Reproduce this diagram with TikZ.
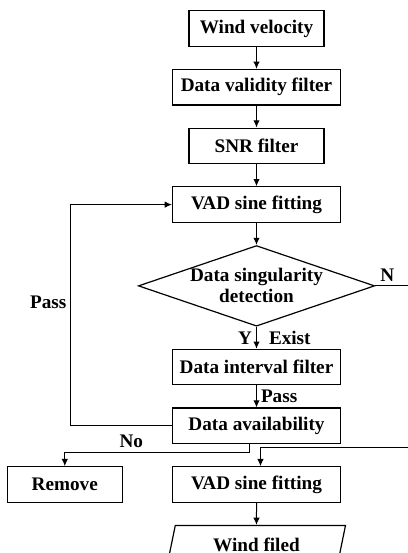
\documentclass[tikz,border=0pt]{standalone}
\usepackage{fontspec}
\setmainfont{Liberation Serif}
\usetikzlibrary{arrows.meta, positioning, shapes.geometric}

\begin{document}
\begin{tikzpicture}[
    x=0.5pt, y=-0.5pt,
    node distance=11pt,
    every node/.style={font=\fontsize{9.6}{10.5}\selectfont\bfseries},
    box/.style={draw, line width=0.6pt, align=center, minimum height=17.75pt,
        minimum width=84pt},
    nbox/.style={box, minimum width=67.5pt},
    decide/.style={draw, line width=0.6pt, diamond, aspect=2.93,
        inner sep=0.15pt, align=center},
    io/.style={draw, line width=0.6pt, trapezium, trapezium left angle=74,
        trapezium right angle=106, trapezium stretches body,
        minimum width=89pt, minimum height=19pt},
    arr/.style={-{Latex[length=3.6pt, width=3.2pt]}, line width=0.5pt},
    lbl/.style={inner sep=2pt}
]
\useasboundingbox (0,0) rectangle (408,553);
\node[nbox] (wv) at (256.5,28.5) {Wind velocity};
\node[box, below=of wv] (dvf) {Data validity filter};
\node[nbox, below=of dvf] (snr) {SNR filter};
\node[box, below=of snr] (vad1) {VAD sine fitting};
\node[decide, below=of vad1] (dsd) {Data singularity\\detection};
\node[box, below=of dsd] (dif) {Data interval filter};
\node[box, below=of dif] (da) {Data availability};
\node[box, below=of da] (vad2) {VAD sine fitting};
\node[box, minimum width=57.5pt, left=24.5pt of vad2] (rm) {Remove};
\node[io, below=of vad2] (wf) {Wind filed};
\coordinate (rt) at (410,447);

\draw[arr] (wv) -- (dvf);
\draw[arr] (dvf) -- (snr);
\draw[arr] (snr) -- (vad1);
\draw[arr] (vad1) -- (dsd);
\draw[arr] (dsd) -- node[lbl, left] {Y} node[lbl, right=4pt] {Exist} (dif);
\draw[arr] (dif) -- node[lbl, right] {Pass} (da);
\draw[arr] (da.west) -- ++(-101,0) |- node[lbl, left, pos=0.28] {Pass} (vad1.west);
\draw[arr] ([xshift=-3.5pt]da.south) -- ++(0,8) -| node[lbl, above, pos=0.32] {No} (rm.north);
\draw[arr] (dsd.east) -- node[lbl, above, pos=0.35] {N} (dsd.east -| rt) -- (rt) -| ([xshift=2pt]vad2.north);
\draw[arr] (vad2) -- (wf);
\end{tikzpicture}
\end{document}
